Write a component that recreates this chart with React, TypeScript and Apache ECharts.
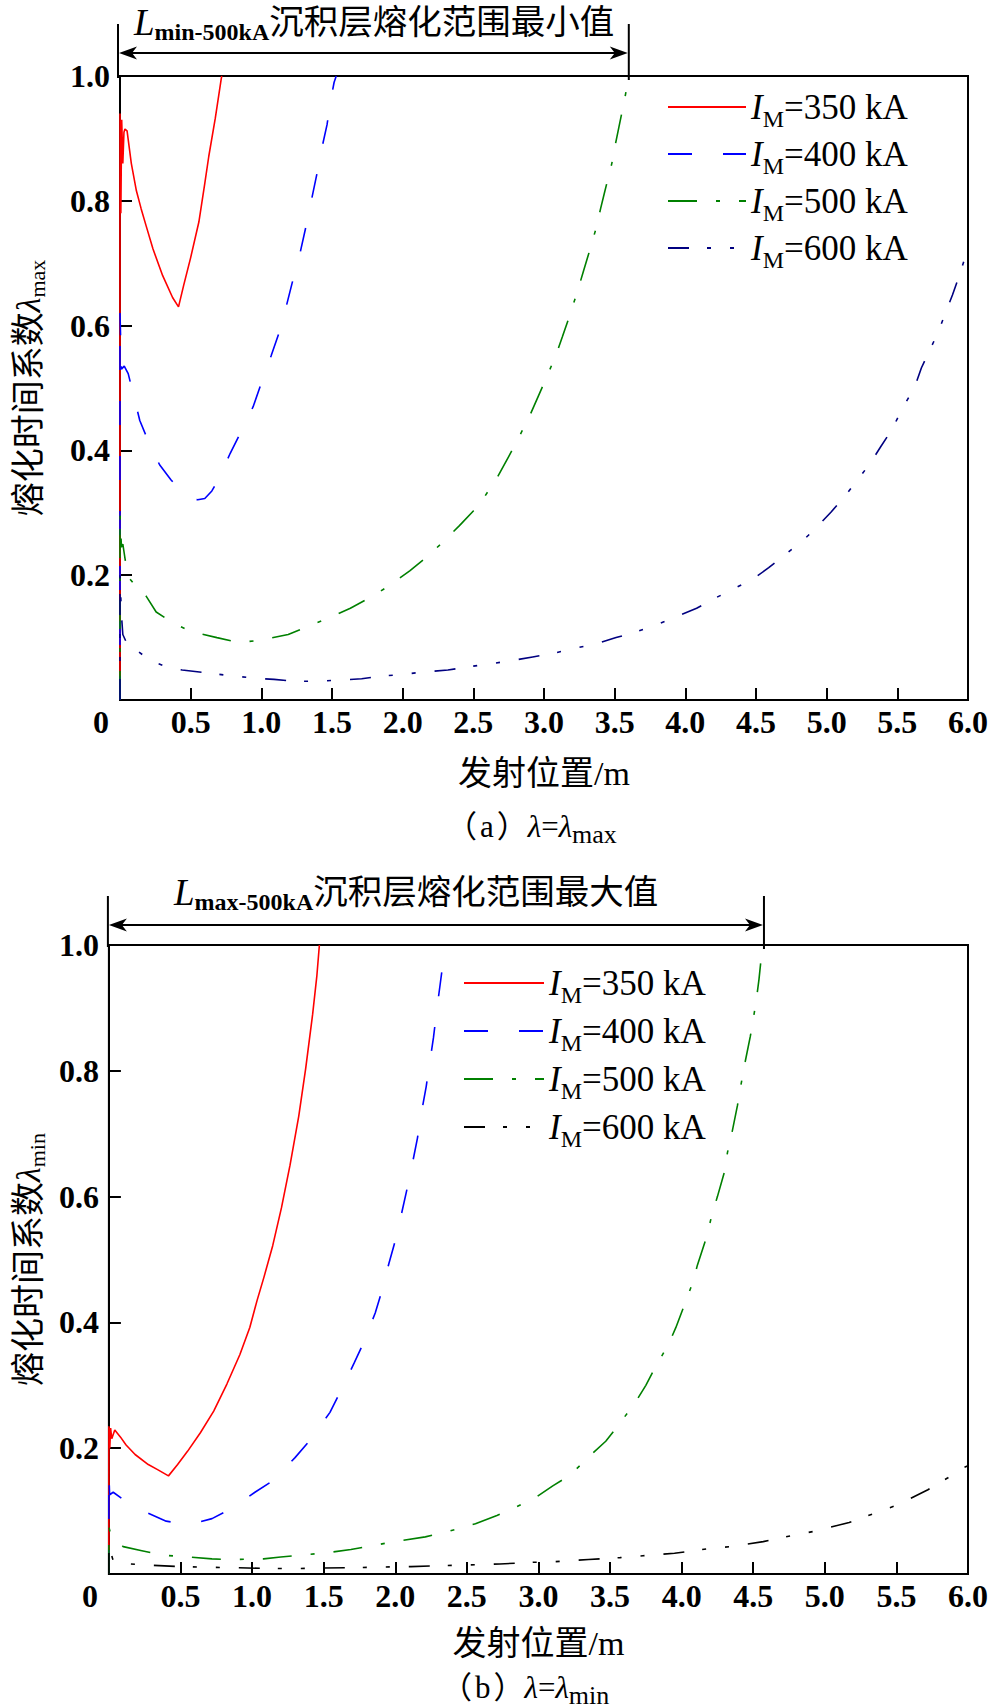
import React, { useEffect, useRef } from 'react';
import * as echarts from 'echarts';

// ---------------- data ----------------
const xTickValues = [0, 0.5, 1, 1.5, 2, 2.5, 3, 3.5, 4, 4.5, 5, 5.5, 6];
const currents = ['350', '400', '500', '600'];
const rangeEndMax = 3.6; // L_min-500kA end (m)
const rangeEndMin = 4.575; // L_max-500kA end (m)

// (a) lambda = lambda_max
const red350Max = [
  [0, 0], [0, 0.94], [0.006, 0.78], [0.012, 0.93], [0.02, 0.86], [0.028, 0.91], [0.035, 0.915],
  [0.05, 0.912], [0.08, 0.86], [0.116, 0.816], [0.15, 0.787], [0.186, 0.759], [0.233, 0.723],
  [0.302, 0.68], [0.372, 0.645], [0.414, 0.63], [0.45, 0.664], [0.5, 0.709], [0.558, 0.766],
  [0.6, 0.828], [0.628, 0.871], [0.674, 0.932], [0.716, 0.995], [0.72, 1.0],
];
const blue400Max = [
  [0, 0], [0, 0.62], [0.01, 0.53], [0.03, 0.535], [0.058, 0.523], [0.093, 0.491], [0.14, 0.448],
  [0.198, 0.416], [0.28, 0.377], [0.36, 0.353], [0.45, 0.33], [0.5, 0.322], [0.55, 0.321],
  [0.6, 0.323], [0.65, 0.335], [0.709, 0.359], [0.779, 0.395], [0.872, 0.437], [0.942, 0.47],
  [1.012, 0.516], [1.07, 0.552], [1.14, 0.598], [1.22, 0.67], [1.267, 0.709], [1.314, 0.757],
  [1.349, 0.795], [1.395, 0.845], [1.419, 0.875], [1.465, 0.922], [1.488, 0.958], [1.515, 0.99],
  [1.53, 1.0],
];
const green500Max = [
  [0, 0], [0, 0.3], [0.01, 0.245], [0.02, 0.25], [0.04, 0.22], [0.07, 0.194], [0.12, 0.18],
  [0.186, 0.166], [0.256, 0.141], [0.372, 0.124], [0.5, 0.11], [0.686, 0.1], [0.84, 0.092],
  [1.0, 0.096], [1.19, 0.105], [1.33, 0.118], [1.47, 0.131], [1.63, 0.147], [1.76, 0.163],
  [1.89, 0.181], [2.05, 0.207], [2.16, 0.227], [2.27, 0.25], [2.4, 0.279], [2.5, 0.303],
  [2.58, 0.326], [2.67, 0.357], [2.75, 0.39], [2.82, 0.42], [2.9, 0.456], [2.96, 0.487],
  [3.02, 0.518], [3.09, 0.556], [3.13, 0.582], [3.18, 0.615], [3.24, 0.657], [3.28, 0.688],
  [3.32, 0.718], [3.37, 0.757], [3.4, 0.787], [3.43, 0.815], [3.48, 0.86], [3.5, 0.885],
  [3.53, 0.918], [3.57, 0.962], [3.6, 1.0],
];
const navy600Max = [
  [0, 0], [0, 0.2], [0.01, 0.137], [0.02, 0.105], [0.05, 0.09], [0.093, 0.084], [0.209, 0.064],
  [0.349, 0.051], [0.44, 0.048], [0.628, 0.043], [0.78, 0.039], [0.95, 0.035], [1.09, 0.033],
  [1.24, 0.03], [1.4, 0.03], [1.55, 0.032], [1.71, 0.034], [1.84, 0.038], [2.0, 0.041],
  [2.15, 0.045], [2.32, 0.048], [2.46, 0.053], [2.62, 0.058], [2.77, 0.063], [2.92, 0.069],
  [3.07, 0.075], [3.22, 0.083], [3.37, 0.09], [3.51, 0.1], [3.65, 0.109], [3.8, 0.121],
  [3.94, 0.134], [4.08, 0.147], [4.2, 0.162], [4.34, 0.178], [4.48, 0.194], [4.59, 0.212],
  [4.7, 0.232], [4.83, 0.255], [4.93, 0.277], [5.03, 0.301], [5.12, 0.324], [5.22, 0.353],
  [5.31, 0.38], [5.38, 0.405], [5.46, 0.433], [5.55, 0.473], [5.62, 0.5], [5.67, 0.532],
  [5.73, 0.561], [5.79, 0.59], [5.84, 0.62], [5.89, 0.649], [5.94, 0.681], [5.98, 0.71],
  [6.0, 0.72],
];

// (b) lambda = lambda_min
const red350Min = [
  [0, 0], [0, 0.235], [0.006, 0.2], [0.012, 0.232], [0.02, 0.215], [0.041, 0.229], [0.08, 0.218],
  [0.12, 0.205], [0.183, 0.19], [0.275, 0.174], [0.34, 0.166], [0.416, 0.156], [0.48, 0.174],
  [0.549, 0.195], [0.64, 0.225], [0.732, 0.259], [0.824, 0.302], [0.915, 0.349], [0.984, 0.392],
  [1.035, 0.435], [1.083, 0.472], [1.144, 0.522], [1.205, 0.582], [1.265, 0.65], [1.326, 0.728],
  [1.374, 0.803], [1.423, 0.89], [1.452, 0.95], [1.47, 1.0],
];
const blue400Min = [
  [0, 0], [0, 0.158], [0.005, 0.126], [0.03, 0.13], [0.12, 0.115], [0.229, 0.101], [0.4, 0.084],
  [0.54, 0.079], [0.6, 0.081], [0.72, 0.088], [0.847, 0.103], [1.02, 0.13], [1.144, 0.148],
  [1.3, 0.185], [1.41, 0.214], [1.544, 0.257], [1.617, 0.29], [1.714, 0.336], [1.775, 0.366],
  [1.86, 0.415], [1.9, 0.445], [1.956, 0.494], [2.0, 0.53], [2.04, 0.569], [2.08, 0.61],
  [2.12, 0.653], [2.155, 0.693], [2.18, 0.73], [2.216, 0.775], [2.24, 0.812], [2.267, 0.853],
  [2.29, 0.897], [2.315, 0.94], [2.34, 0.983], [2.35, 1.0],
];
const green500Min = [
  [0, 0], [0, 0.075], [0.01, 0.065], [0.1, 0.0435], [0.23, 0.037], [0.37, 0.03], [0.56, 0.027],
  [0.72, 0.024], [0.86, 0.023], [1.08, 0.024], [1.2, 0.027], [1.35, 0.03], [1.53, 0.034],
  [1.69, 0.039], [1.84, 0.045], [1.98, 0.051], [2.21, 0.059], [2.36, 0.067], [2.56, 0.08],
  [2.71, 0.093], [2.84, 0.106], [2.99, 0.123], [3.1, 0.14], [3.22, 0.157], [3.36, 0.188],
  [3.47, 0.211], [3.56, 0.237], [3.68, 0.274], [3.75, 0.3], [3.81, 0.326], [3.91, 0.366],
  [3.96, 0.392], [4.01, 0.422], [4.08, 0.465], [4.11, 0.491], [4.18, 0.54], [4.21, 0.57],
  [4.25, 0.6], [4.3, 0.64], [4.32, 0.67], [4.35, 0.7], [4.39, 0.745], [4.41, 0.772],
  [4.44, 0.81], [4.48, 0.855], [4.5, 0.882], [4.52, 0.91], [4.54, 0.945], [4.565, 1.0],
];
const black600Min = [
  [0, 0], [0, 0.045], [0.03, 0.021], [0.15, 0.016], [0.28, 0.014], [0.48, 0.012], [0.64, 0.011],
  [0.87, 0.01], [1.08, 0.009], [1.26, 0.0085], [1.49, 0.0095], [1.71, 0.01], [1.88, 0.011],
  [2.11, 0.0117], [2.34, 0.0133], [2.5, 0.0143], [2.73, 0.016], [2.96, 0.0186], [3.11, 0.0196],
  [3.35, 0.023], [3.57, 0.026], [3.73, 0.029], [3.95, 0.033], [4.18, 0.04], [4.34, 0.0435],
  [4.57, 0.0515], [4.79, 0.062], [4.94, 0.0685], [5.17, 0.082], [5.38, 0.099], [5.52, 0.111],
  [5.72, 0.134], [5.86, 0.153], [5.97, 0.169], [6.0, 0.172],
];

// ---------------- styles ----------------
const SERIF = "'Liberation Serif', 'Times New Roman', serif";
const CJK = "'Liberation Serif', 'Noto Sans CJK SC', serif";

const DASH_SOLID = 'solid';
const DASH_LONG = [24, 31];
const DASH_DOT = [29, 19, 4, 19];
const DASH_DOTDOT = [21, 18, 4, 19, 4, 19];

const mkSeries = (name: string, data: number[][], color: string, dash: any, gi: number) => ({
  type: 'line',
  name,
  xAxisIndex: gi,
  yAxisIndex: gi,
  data,
  symbol: 'none',
  showSymbol: false,
  silent: true,
  lineStyle: { color, width: 1.6, type: dash },
  itemStyle: { color },
});

const legendRich = {
  i: { fontFamily: SERIF, fontStyle: 'italic', fontSize: 35, lineHeight: 36, color: '#000' },
  s: { fontFamily: SERIF, fontSize: 24, lineHeight: 36, padding: [24, 0, 0, 0], color: '#000' },
  t: { fontFamily: SERIF, fontSize: 35, lineHeight: 36, color: '#000' },
};
const legendFmt = (name: string) => `{i|I}{s|M}{t|=${name.split('-')[1]} kA}`;

const mkLegend = (names: string[], left: number, top: number, w: number, gap: number) => ({
  orient: 'vertical',
  left,
  top,
  padding: 0,
  itemWidth: w,
  itemHeight: 12,
  itemGap: gap,
  selectedMode: false,
  data: names,
  formatter: legendFmt,
  itemStyle: { color: 'rgba(0,0,0,0)', borderColor: 'rgba(0,0,0,0)', borderWidth: 0, opacity: 0 },
  textStyle: { color: '#000', fontFamily: SERIF, fontSize: 35, lineHeight: 36, rich: legendRich },
});

const mkX = (gi: number, nameGap: number) => ({
  gridIndex: gi,
  type: 'value',
  min: 0,
  max: 6,
  interval: 0.5,
  name: '发射位置/m',
  nameLocation: 'middle',
  nameGap,
  nameTextStyle: { fontFamily: CJK, fontSize: 34, color: '#000' },
  axisLine: { onZero: false, lineStyle: { color: '#000', width: 2 } },
  axisTick: { inside: true, length: 12, lineStyle: { color: '#000', width: 2 } },
  splitLine: { show: false },
  axisLabel: {
    margin: 6,
    color: '#000',
    fontFamily: SERIF,
    fontWeight: 'bold',
    fontSize: 32,
    formatter: (v: number) => (v === 0 ? '{z|0}' : v.toFixed(1)),
    rich: {
      z: { fontFamily: SERIF, fontWeight: 'bold', fontSize: 32, color: '#000', padding: [0, 38, 0, 0] },
    },
  },
});

const mkY = (gi: number, sub: string, nameGap: number) => ({
  gridIndex: gi,
  type: 'value',
  min: 0,
  max: 1,
  interval: 0.2,
  name: `熔化时间系数{l|λ}{s|${sub}}`,
  nameLocation: 'middle',
  nameRotate: 90,
  nameGap,
  nameTextStyle: {
    fontFamily: CJK,
    fontSize: 34,
    lineHeight: 38,
    color: '#000',
    rich: {
      l: { fontFamily: SERIF, fontStyle: 'italic', fontSize: 34, lineHeight: 38, color: '#000' },
      s: { fontFamily: SERIF, fontSize: 22, lineHeight: 38, padding: [18, 0, 0, 0], color: '#000' },
    },
  },
  axisLine: { onZero: false, lineStyle: { color: '#000', width: 2 } },
  axisTick: { inside: true, length: 12, lineStyle: { color: '#000', width: 2 } },
  splitLine: { show: false },
  axisLabel: {
    margin: 10,
    color: '#000',
    fontFamily: SERIF,
    fontWeight: 'bold',
    fontSize: 32,
    formatter: (v: number) => (v === 0 ? '' : v.toFixed(1)),
  },
});

function buildOption() {
  const namesMax = currents.map((c) => `max-${c}`);
  const namesMin = currents.map((c) => `min-${c}`);
  return {
    animation: false,
    backgroundColor: '#fff',
    grid: [
      { left: 111, top: 76, width: 857, height: 624, show: true, borderColor: '#000', borderWidth: 2, backgroundColor: 'transparent' },
      { left: 100, top: 945, width: 868, height: 629, show: true, borderColor: '#000', borderWidth: 2, backgroundColor: 'transparent' },
    ],
    xAxis: [mkX(0, 56), mkX(1, 52)],
    yAxis: [mkY(0, 'max', 73), mkY(1, 'min', 60)],
    legend: [mkLegend(namesMax, 667, 83, 78, -1), mkLegend(namesMin, 463, 959, 80, 0)],
    series: [
      mkSeries(namesMax[0], red350Max, '#ff0000', DASH_SOLID, 0),
      mkSeries(namesMax[1], blue400Max, '#0000ff', DASH_LONG, 0),
      mkSeries(namesMax[2], green500Max, '#008000', DASH_DOT, 0),
      mkSeries(namesMax[3], navy600Max, '#000080', DASH_DOTDOT, 0),
      mkSeries(namesMin[0], red350Min, '#ff0000', DASH_SOLID, 1),
      mkSeries(namesMin[1], blue400Min, '#0000ff', DASH_LONG, 1),
      mkSeries(namesMin[2], green500Min, '#008000', DASH_DOT, 1),
      mkSeries(namesMin[3], black600Min, '#000000', DASH_DOTDOT, 1),
    ],
  };
}

const arrowHead = (tipX: number, y: number, dir: number) => ({
  type: 'polygon',
  silent: true,
  shape: {
    points: [
      [tipX, y],
      [tipX - dir * 18, y - 6.5],
      [tipX - dir * 13, y],
      [tipX - dir * 18, y + 6.5],
    ],
  },
  style: { fill: '#000' },
});

const annoRich = {
  L: { fontFamily: SERIF, fontStyle: 'italic', fontSize: 37, lineHeight: 40, fill: '#000' },
  s: { fontFamily: SERIF, fontWeight: 'bold', fontSize: 24, lineHeight: 40, padding: [20, 0, 0, 0], fill: '#000' },
  c: { fontFamily: CJK, fontSize: 34.5, lineHeight: 40, fill: '#000' },
};

function annotation(left: number, right: number, mTop: number, mBottom: number, arrowY: number, textX: number, textY: number, sub: string, cjk: string) {
  const line = (x1: number, y1: number, x2: number, y2: number) => ({
    type: 'line',
    silent: true,
    shape: { x1, y1, x2, y2 },
    style: { stroke: '#000', lineWidth: 2 },
  });
  return [
    line(left, mTop, left, mBottom),
    line(right, mTop, right, mBottom + 2),
    line(left + 10, arrowY, right - 10, arrowY),
    arrowHead(left + 1, arrowY, -1),
    arrowHead(right - 1, arrowY, 1),
    {
      type: 'text',
      silent: true,
      x: textX,
      y: textY,
      style: { text: `{L|L}{s|${sub}}{c|${cjk}}`, rich: annoRich, align: 'left', verticalAlign: 'middle', fill: '#000' },
    },
  ];
}

const captionRich = {
  p: { fontFamily: CJK, fontSize: 31, lineHeight: 34, fill: '#000' },
  a: { fontFamily: SERIF, fontSize: 31, lineHeight: 34, fill: '#000', padding: [0, 3, 0, 3] },
  l: { fontFamily: SERIF, fontStyle: 'italic', fontSize: 31, lineHeight: 34, fill: '#000' },
  e: { fontFamily: SERIF, fontSize: 31, lineHeight: 34, fill: '#000' },
  s: { fontFamily: SERIF, fontSize: 26, lineHeight: 34, padding: [16, 0, 0, 0], fill: '#000' },
};
const caption = (x: number, y: number, letter: string, sub: string) => ({
  type: 'text',
  silent: true,
  x,
  y,
  style: {
    text: `{p|（}{a|${letter}}{p|）}{l|λ}{e|=}{l|λ}{s|${sub}}`,
    rich: captionRich,
    align: 'left',
    verticalAlign: 'middle',
    fill: '#000',
  },
});

export default function App() {
  const ref = useRef<HTMLDivElement>(null);
  useEffect(() => {
    if (!ref.current) return;
    const chart = echarts.init(ref.current, null, { renderer: 'svg' });
    chart.setOption(buildOption());
    const p = (gi: number, x: number, y: number) => chart.convertToPixel({ gridIndex: gi } as any, [x, y]) as number[];
    const a0 = p(0, 0, 1);
    const a1 = p(0, rangeEndMax, 1);
    const b0 = p(1, 0, 1);
    const b1 = p(1, rangeEndMin, 1);
    const graphic = [
      ...annotation(a0[0] - 2, a1[0], 24, a0[1] + 2, 53, 134, 22, 'min-500kA', '沉积层熔化范围最小值'),
      ...annotation(b0[0] - 1, b1[0], 896, b0[1] + 2, 925, 174, 892, 'max-500kA', '沉积层熔化范围最大值'),
      caption(446, 826, 'a', 'max'),
      caption(441, 1687, 'b', 'min'),
    ];
    chart.setOption({ graphic });
    return () => chart.dispose();
  }, []);
  return <div ref={ref} style={{ position: 'absolute', left: 0, top: 0, width: 992, height: 1708 }} />;
}
